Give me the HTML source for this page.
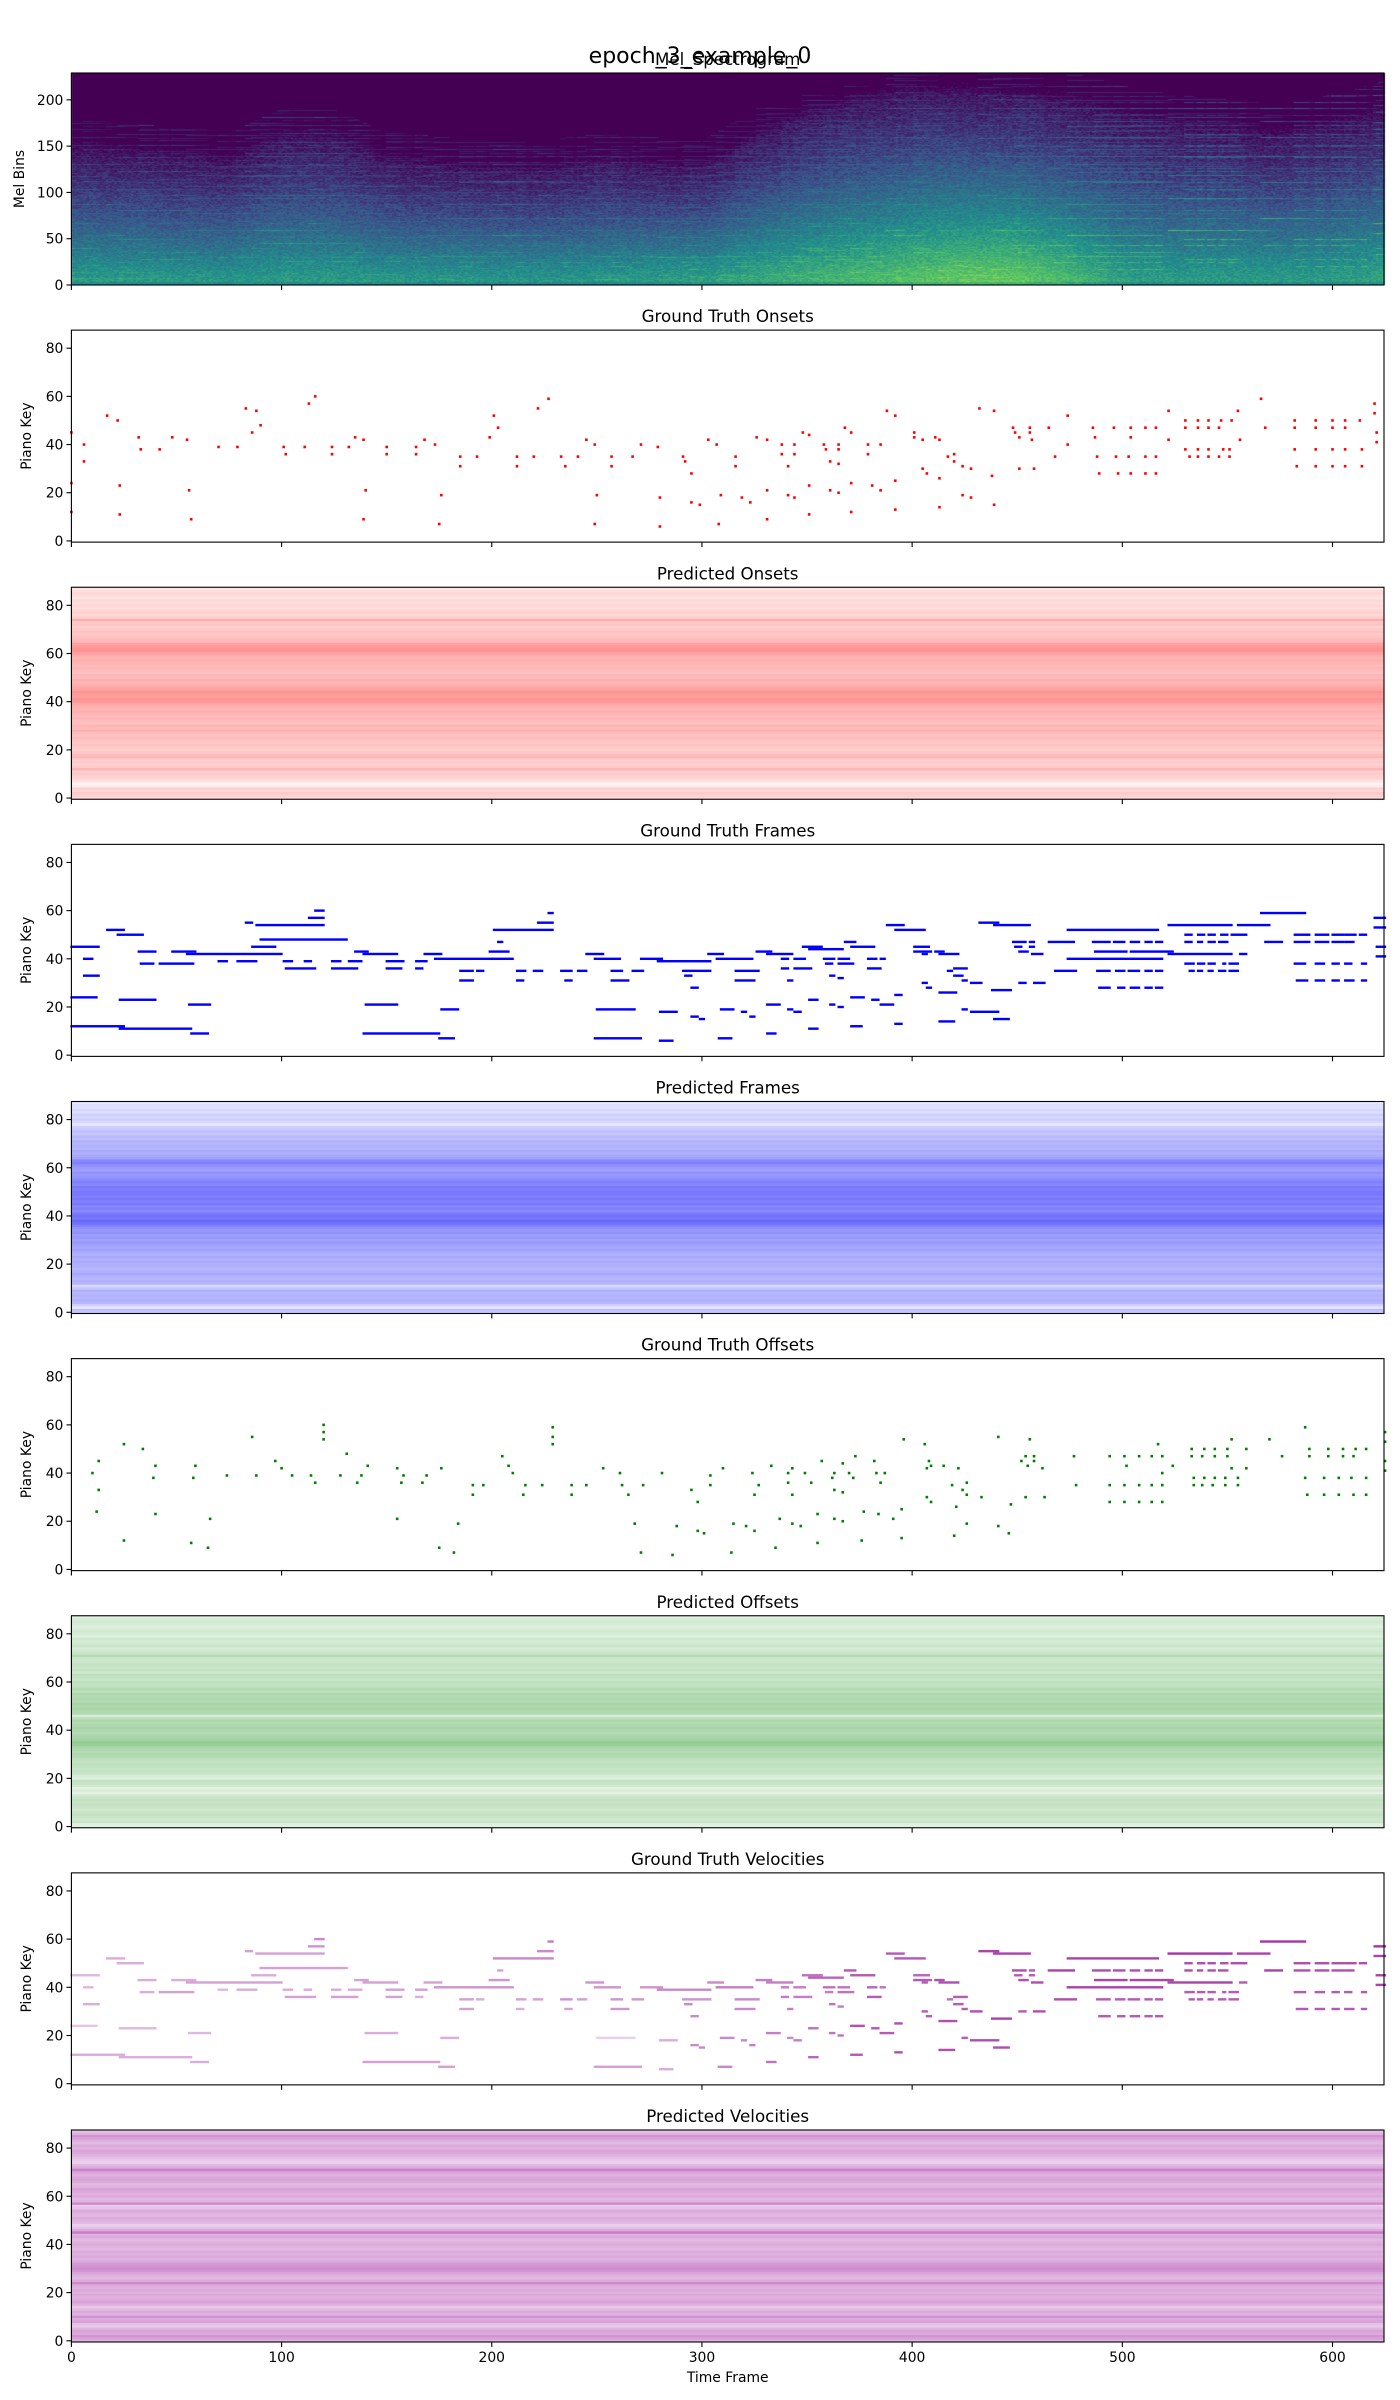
<!DOCTYPE html>
<html><head><meta charset="utf-8">
<style>
html,body{margin:0;padding:0;background:#fff;}
#wrap{position:relative;width:1400px;height:2400px;overflow:hidden;}
#mel{position:absolute;left:0;top:0;}
#svg{position:absolute;left:0;top:0;}
text{font-family:"DejaVu Sans","Liberation Sans",sans-serif;fill:#000;}
</style></head>
<body>
<div id="wrap">
<canvas id="mel" width="1400" height="2400"></canvas>
<svg id="svg" width="1400" height="2400" xmlns="http://www.w3.org/2000/svg">
<text x="700" y="63" font-size="22" text-anchor="middle">epoch_3_example_0</text>
</svg>
</div>
<script>
// ---------- DATA ----------
const timeTicks = [0,100,200,300,400,500,600];
const keyTicks = [0,20,40,60,80];
const melTicks = [0,50,100,150,200];
const panelTitles = ["Mel_Spectrogram","Ground Truth Onsets","Predicted Onsets","Ground Truth Frames","Predicted Frames","Ground Truth Offsets","Predicted Offsets","Ground Truth Velocities","Predicted Velocities"];
// notes: [key, startFrame, endFrame, velocity]
const notes = [
[45,0,13,.3],[52,17,25,.35],[50,22,34,.35],[40,6,10,.3],[33,6,13,.35],[24,0,12,.25],[23,23,40,.3],[12,0,25,.35],[11,23,57,.35],[43,32,40,.35],[38,33,39,.35],[38,42,58,.4],[43,48,59,.35],[42,55,100,.4],[21,56,66,.3],[9,57,65,.35],[39,70,74,.3],[39,79,88,.35],[55,83,86,.4],[54,88,120,.4],[45,86,97,.35],[48,90,131,.4],[57,113,120,.45],[60,116,120,.5],[39,101,105,.35],[36,102,116,.4],[39,111,114,.35],[39,124,128,.35],[36,124,136,.4],[39,132,138,.35],[43,135,141,.4],[42,139,155,.4],[21,140,155,.35],[9,139,175,.4],[39,150,158,.4],[36,150,157,.4],[39,164,169,.4],[36,164,167,.35],[42,168,176,.4],[40,173,210,.45],[19,176,184,.35],[7,175,182,.4],[35,185,191,.4],[31,185,191,.4],[35,193,196,.35],[43,199,208,.45],[47,203,205,.4],[52,201,229,.5],[55,222,229,.5],[59,227,229,.55],[35,212,216,.4],[31,212,215,.35],[35,220,224,.4],[35,233,238,.45],[31,235,238,.4],[35,241,245,.4],[42,245,253,.45],[40,249,261,.45],[35,257,262,.45],[31,257,265,.45],[19,250,268,.2],[7,249,271,.4],[35,267,272,.45],[40,271,281,.45],[39,279,304,.5],[18,280,288,.35],[6,280,286,.35],[35,291,304,.45],[33,292,295,.5],[28,295,298,.5],[16,295,298,.5],[15,299,301,.5],[42,303,310,.5],[40,307,324,.55],[19,309,315,.5],[7,308,314,.5],[35,316,327,.5],[31,316,325,.5],[18,319,321,.5],[16,323,325,.55],[43,326,333,.55],[42,331,343,.55],[40,338,341,.55],[40,344,349,.55],[36,338,341,.55],[36,344,352,.55],[31,341,343,.55],[21,331,337,.55],[19,341,343,.5],[18,344,347,.55],[9,331,335,.6],[45,348,357,.6],[44,351,367,.65],[40,358,363,.6],[40,365,370,.6],[38,359,362,.55],[38,365,372,.6],[33,361,363,.6],[32,365,367,.55],[23,351,355,.6],[21,361,363,.6],[20,365,367,.6],[11,351,355,.65],[47,368,373,.7],[45,371,382,.7],[40,379,383,.65],[40,385,387,.6],[36,379,385,.7],[24,371,377,.75],[23,381,384,.7],[21,385,391,.7],[25,392,395,.75],[12,371,376,.7],[13,392,395,.75],[54,388,396,.7],[52,392,406,.7],[45,401,408,.65],[43,401,409,.7],[42,405,407,.7],[43,411,415,.75],[42,413,422,.75],[30,405,407,.7],[28,407,409,.7],[26,413,421,.75],[14,413,420,.75],[36,420,426,.7],[35,417,419,.6],[33,420,424,.7],[31,424,426,.7],[30,428,433,.75],[19,424,426,.7],[18,428,441,.75],[15,439,446,.75],[55,432,441,.8],[54,439,456,.8],[27,438,447,.8],[47,448,454,.75],[45,449,452,.7],[43,451,455,.75],[47,456,458,.7],[45,456,458,.7],[42,457,462,.75],[30,451,454,.7],[30,458,463,.75],[47,465,477,.8],[52,474,517,.8],[40,474,519,.8],[35,468,478,.75],
[47,486,494,.75],[47,496,501,.75],[47,504,508,.75],[47,511,514,.75],[47,516,519,.75],
[43,487,502,.8],[43,504,524,.8],[42,522,552,.8],
[35,488,494,.7],[35,497,501,.7],[35,503,508,.7],[35,511,514,.7],[35,516,519,.7],
[28,489,494,.7],[28,498,501,.7],[28,504,508,.7],[28,511,514,.7],[28,516,519,.7],
[54,522,552,.85],[54,555,570,.8],
[50,530,533,.75],[50,536,539,.75],[50,541,544,.75],[50,547,550,.75],[50,552,559,.75],
[47,530,533,.75],[47,536,538,.75],[47,541,544,.75],[47,546,550,.75],
[38,530,534,.7],[38,536,539,.7],[38,541,544,.7],[38,548,549,.7],[38,551,555,.7],
[35,532,534,.7],[35,536,538,.7],[35,541,543,.7],[35,546,549,.7],[35,551,555,.7],
[42,556,559,.7],[59,566,587,.85],[47,568,576,.8],
[50,582,589,.75],[50,592,598,.75],[50,600,605,.75],[50,606,611,.75],[50,613,616,.75],
[47,582,589,.75],[47,592,598,.75],[47,600,605,.75],[47,606,610,.75],
[38,582,587,.7],[38,592,596,.7],[38,600,603,.7],[38,606,609,.7],[38,614,616,.7],
[31,583,588,.7],[31,592,596,.7],[31,600,603,.7],[31,606,610,.7],[31,614,616,.7],
[57,620,625,.85],[53,620,625,.8],[45,621,625,.8],[41,621,625,.8]
];
// predicted per-key intensities (key 0 .. 87)
const predOnsets = [.3,.35,.4,.3,.35,.15,.1,.2,.3,.35,.4,.35,.55,.4,.35,.4,.35,.55,.5,.4,.35,.4,.45,.4,.45,.5,.45,.5,.6,.5,.55,.45,.5,.55,.5,.55,.6,.55,.6,.65,.75,.8,.7,.75,.8,.7,.65,.6,.55,.6,.5,.55,.45,.5,.55,.5,.55,.6,.55,.6,.7,.8,.8,.75,.7,.55,.5,.45,.4,.45,.4,.35,.45,.4,.6,.35,.3,.35,.3,.25,.3,.25,.3,.2,.25,.3,.25,.2];
const predFrames = [.35,.4,.15,.3,.45,.5,.45,.5,.45,.5,.35,.25,.45,.5,.45,.5,.55,.5,.45,.5,.5,.55,.5,.55,.5,.55,.6,.55,.6,.65,.6,.65,.6,.7,.65,.7,.8,.9,.95,.85,.9,.85,.75,.8,.75,.85,.8,.85,.8,.85,.85,.8,.85,.75,.8,.75,.7,.65,.7,.6,.65,.7,.8,.75,.6,.55,.5,.55,.45,.5,.45,.5,.4,.45,.35,.4,.35,.3,.15,.25,.3,.25,.3,.2,.25,.2,.2,.15];
const predOffsets = [.2,.25,.4,.35,.4,.45,.4,.35,.4,.45,.4,.45,.4,.35,.2,.3,.2,.35,.4,.45,.25,.3,.4,.45,.4,.45,.5,.45,.5,.55,.6,.55,.6,.65,.75,.8,.7,.65,.6,.55,.6,.65,.6,.55,.6,.5,.3,.55,.6,.65,.6,.65,.55,.6,.55,.6,.5,.55,.5,.45,.5,.4,.45,.5,.35,.45,.4,.45,.4,.35,.4,.55,.4,.35,.3,.4,.35,.3,.35,.25,.3,.35,.3,.25,.3,.35,.3,.25];
const predVelocities = [.5,.6,.7,.55,.6,.5,.35,.4,.6,.55,.7,.5,.55,.45,.35,.5,.6,.55,.5,.55,.5,.55,.5,.55,.75,.55,.45,.5,.55,.7,.75,.7,.65,.55,.5,.55,.5,.55,.45,.5,.55,.5,.45,.55,.5,.85,.55,.4,.3,.45,.5,.55,.45,.5,.55,.4,.35,.75,.5,.45,.55,.5,.55,.6,.5,.45,.55,.6,.55,.5,.6,.8,.55,.45,.3,.35,.4,.5,.55,.6,.5,.55,.45,.5,.6,.7,.5,.4];
// mel spectrogram envelope, one value every 25 frames
const melCutoff = [165,160,155,150,175,175,150,145,140,140,150,145,140,175,200,215,225,225,220,215,200,190,185,180,190,205];
const melLoudness = [.6,.62,.6,.6,.62,.62,.6,.6,.6,.6,.6,.62,.64,.68,.72,.76,.8,.84,.84,.76,.64,.62,.62,.62,.62,.66];

// ---------- LAYOUT ----------
const NS = "http://www.w3.org/2000/svg";
const svg = document.getElementById('svg');
const AX_L = 71.4, AX_R = 1384, AX_H = 212, PANEL_STEP = 257.125, TOP0 = 73;
const XMAX = 624.5;
const N_FRAMES = 626, N_MELS = 229, N_KEYS = 88;
function X(f){ return AX_L + f*(AX_R-AX_L)/XMAX; }
function panelTop(i){ return TOP0 + i*PANEL_STEP; }
function panelBottom(i){ return panelTop(i) + AX_H; }
function YK(i,k){ return panelBottom(i) - (k+0.5)*AX_H/N_KEYS; }
function YM(b){ return panelBottom(0) - (b+0.5)*AX_H/N_MELS; }
const KH = AX_H/N_KEYS;
function mk(tag, attrs, parent){
  const el = document.createElementNS(NS, tag);
  for (const k in attrs) el.setAttribute(k, attrs[k]);
  (parent||svg).appendChild(el);
  return el;
}
function mix(base, v){
  const r = Math.round(255 + (base[0]-255)*v), g = Math.round(255 + (base[1]-255)*v), b = Math.round(255 + (base[2]-255)*v);
  return `rgb(${r},${g},${b})`;
}

// ---------- MEL SPECTROGRAM ----------
(function(){
  const cv = document.getElementById('mel');
  const ctx = cv.getContext('2d');
  const off = document.createElement('canvas');
  off.width = N_FRAMES; off.height = N_MELS;
  const oc = off.getContext('2d');
  const img = oc.createImageData(N_FRAMES, N_MELS);
  const vir = [[68,1,84],[59,82,139],[33,145,140],[94,201,98],[253,231,37]];
  function cmap(v){
    v = Math.max(0, Math.min(1, v));
    const p = v*4, i = Math.min(3, Math.floor(p)), t = p - i;
    return [0,1,2].map(c => vir[i][c] + (vir[i+1][c]-vir[i][c])*t);
  }
  function interp(arr, t){
    const p = t/25, i = Math.min(arr.length-2, Math.floor(p)), f = p - i;
    return arr[i] + (arr[i+1]-arr[i])*f;
  }
  const melMax = 2595*Math.log10(1+8000/700);
  function melBin(freq){ return 2595*Math.log10(1+freq/700)/melMax*N_MELS; }
  function hash(a,b){ let h = (a*374761393 + b*668265263) ^ 0x5bd1e995; h = (h ^ (h>>>13))*1274126177; h = h ^ (h>>>16); return ((h>>>0)%1000)/1000; }
  const col = new Float32Array(N_MELS);
  for (let t=0; t<N_FRAMES; t++){
    const cut = interp(melCutoff, t), ld = interp(melLoudness, t);
    for (let b=0; b<N_MELS; b++){
      const n = hash(t,b);
      if (b < cut - 20*n) col[b] = ld*(0.06 + 0.86*Math.pow(Math.max(0,1-b/cut),1.4)) + (n-0.5)*0.14;
      else col[b] = 0;
      if (b < 3) col[b] *= 0.85;
    }
    for (const nt of notes){
      if (t < nt[1] || t > nt[2]+6) continue;
      const decay = t > nt[2] ? 0.5 : 1 - 0.25*(t-nt[1])/Math.max(1,nt[2]-nt[1]+6);
      const f0 = 440*Math.pow(2,(nt[0]+21-69)/12);
      for (let h=1; h<=16; h++){
        const bb = Math.round(melBin(f0*h));
        if (bb >= N_MELS) break;
        const amp = 0.3*decay*(0.6+nt[3]*0.6)/Math.pow(h,0.4);
        if (bb < cut+15) col[bb] = Math.max(col[bb], col[bb]*0.7 + amp);
      }
    }
    for (let b=0; b<N_MELS; b++){
      const c = cmap(col[b]);
      const idx = ((N_MELS-1-b)*N_FRAMES + t)*4;
      img.data[idx]=c[0]; img.data[idx+1]=c[1]; img.data[idx+2]=c[2]; img.data[idx+3]=255;
    }
  }
  oc.putImageData(img,0,0);
  ctx.imageSmoothingEnabled = false;
  const x0 = X(-0.5);
  ctx.drawImage(off, x0, TOP0, X(N_FRAMES-0.5)-x0, AX_H);
  ctx.fillStyle = '#fff';
  ctx.fillRect(AX_R+1, 0, 1400-AX_R, 400);
  ctx.fillRect(0, 0, AX_L, 400);
})();

// ---------- PREDICTED HEATMAPS ----------
function drawPred(i, arr, base, name){
  const g = mk('g', {});
  
  
  arr.forEach((v,k) => {
    const r = mk('rect', {x:AX_L, y:YK(i,k)-KH/2-0.15, width:AX_R-AX_L, height:KH+0.3, fill:mix(base, v)}, g);
    
    
  });
}
drawPred(2, predOnsets, [255,120,120], 'predicted-onsets-heatmap');
drawPred(4, predFrames, [96,96,255], 'predicted-frames-heatmap');
drawPred(6, predOffsets, [120,190,120], 'predicted-offsets-heatmap');
drawPred(8, predVelocities, [190,100,190], 'predicted-velocities-heatmap');

// ---------- GROUND TRUTH ----------
const gOn = mk('g', {});


const gFr = mk('g', {});


const gOff = mk('g', {});


const gVel = mk('g', {});


notes.forEach(nt => {
  const [k, s, e, v] = nt;
  const on = mk('rect', {x:X(s)-1.3, y:YK(1,k)-1.3, width:2.6, height:2.6, fill:'#ff0000'}, gOn);
  
  
  const fr = mk('rect', {x:X(s-0.5), y:YK(3,k)-KH/2, width:X(e+0.5)-X(s-0.5), height:KH, fill:'#0000ff'}, gFr);
  
  
  const of = mk('rect', {x:X(e)-1.3, y:YK(5,k)-1.3, width:2.6, height:2.6, fill:'#008000'}, gOff);
  
  
  const ve = mk('rect', {x:X(s-0.5), y:YK(7,k)-KH/2, width:X(e+0.5)-X(s-0.5), height:KH, fill:`rgba(150,20,150,${v})`}, gVel);
  
  
});

// ---------- AXES ----------
for (let i=0; i<9; i++){
  const top = panelTop(i), bot = panelBottom(i);
  const ax = mk('g', {});
  
  
  const fr = mk('rect', {x:AX_L, y:top, width:AX_R-AX_L, height:AX_H, fill:'none', stroke:'#000', 'stroke-width':1.1}, ax);
  
  
  const tt = mk('text', {x:(AX_L+AX_R)/2, y: top-8, 'font-size':16.7, 'text-anchor':'middle'}, ax);
  tt.textContent = panelTitles[i];
  
  
  timeTicks.forEach(t => {
    const tk = mk('line', {x1:X(t), x2:X(t), y1:bot, y2:bot+4.9, stroke:'#000', 'stroke-width':1.1}, ax);
    
    
    if (i === 8){
      const tl = mk('text', {x:X(t), y:bot+20, 'font-size':13.9, 'text-anchor':'middle'}, ax);
      tl.textContent = String(t);
      
      
    }
  });
  const yt = i === 0 ? melTicks : keyTicks;
  yt.forEach(v => {
    const y = i === 0 ? YM(v) + AX_H/N_MELS/2 : YK(i, v);
    const tk = mk('line', {x1:AX_L-4.9, x2:AX_L, y1:y, y2:y, stroke:'#000', 'stroke-width':1.1}, ax);
    
    
    const tl = mk('text', {x:AX_L-8, y:y+5, 'font-size':13.9, 'text-anchor':'end'}, ax);
    tl.textContent = String(v);
    
    
  });
  const lx = i === 0 ? 20 : 27;
  const yl = mk('text', {x:lx, y:(top+bot)/2, 'font-size':13.9, 'text-anchor':'middle', transform:`rotate(-90 ${lx} ${(top+bot)/2})`, 'dominant-baseline':'middle'}, ax);
  yl.textContent = i === 0 ? 'Mel Bins' : 'Piano Key';
  
  
}
const xl = mk('text', {x:(AX_L+AX_R)/2, y:2382, 'font-size':13.9, 'text-anchor':'middle'});
xl.textContent = 'Time Frame';


</script>
</body></html>
